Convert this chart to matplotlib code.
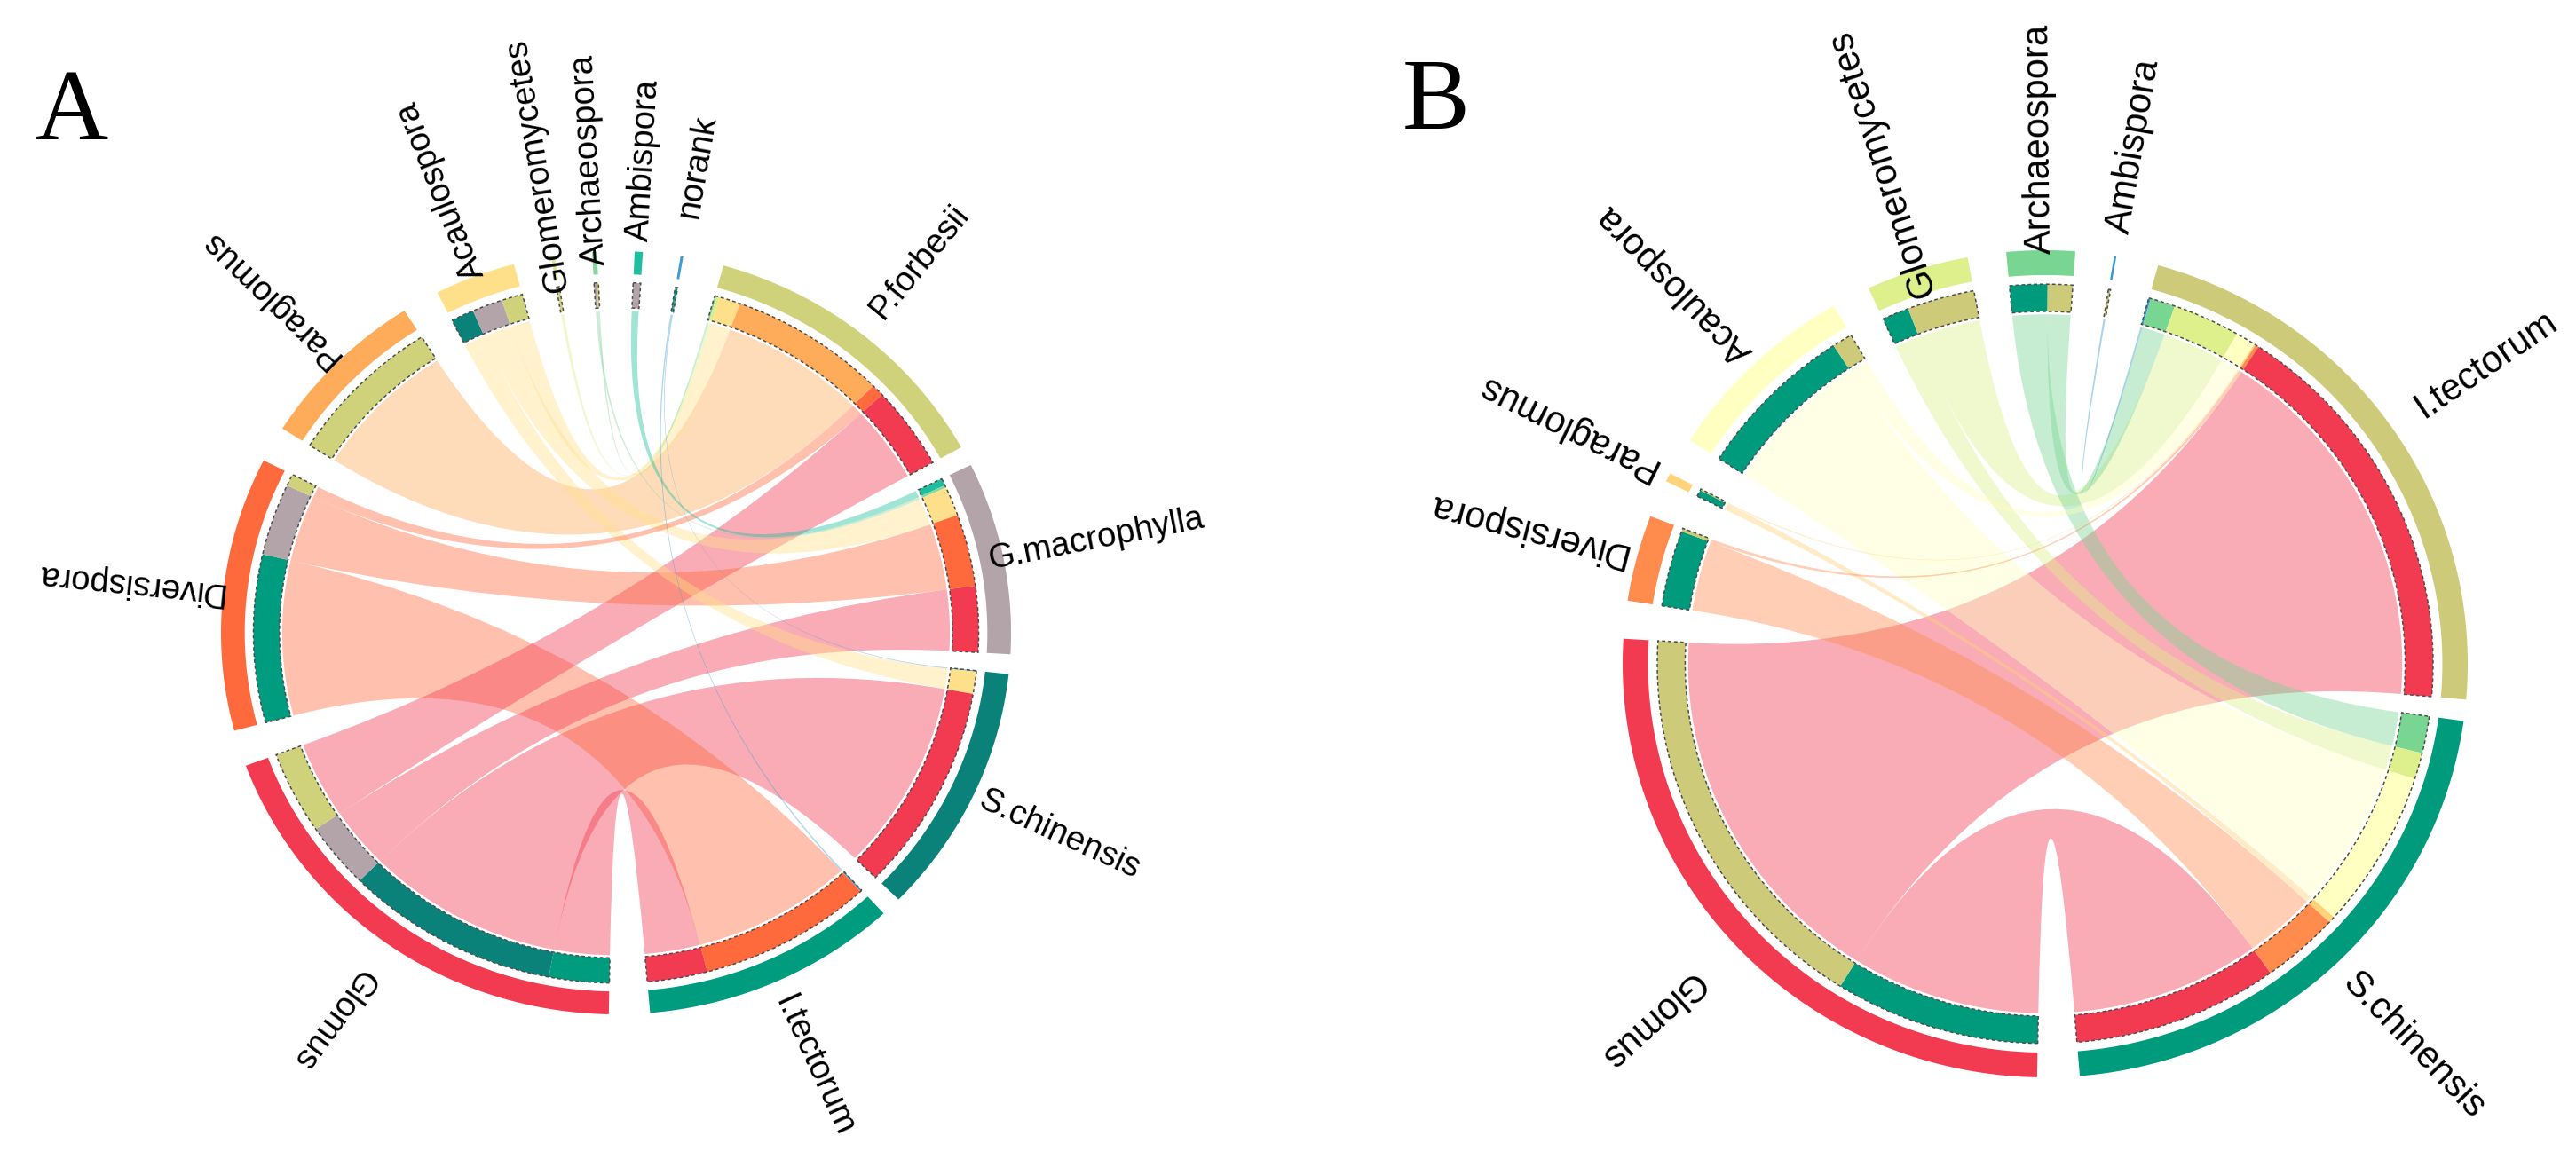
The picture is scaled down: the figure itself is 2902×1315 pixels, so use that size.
import numpy as np
import matplotlib
matplotlib.use("Agg")
import matplotlib.pyplot as plt
from matplotlib.path import Path
from matplotlib.patches import PathPatch, Polygon

# ---- panel A: hosts x AMF genera ----
a_hosts = ["P.forbesii", "G.macrophylla", "S.chinensis", "I.tectorum"]
a_genera = ["Glomus", "Diversispora", "Paraglomus", "Acaulospora",
            "Glomeromycetes", "Archaeospora", "Ambispora", "norank"]
a_pforbesii = [13.8, 2.0, 25.4, 3.4, 0.5, 0.3, 0.0, 0.0]
a_gmacrophylla = [11.0, 12.0, 0.0, 4.9, 0.0, 0.4, 1.2, 0.0]
a_schinensis = [34.5, 0.0, 0.0, 3.7, 0.0, 0.0, 0.0, 0.15]
a_itectorum = [9.7, 28.0, 0.0, 0.0, 0.0, 0.0, 0.0, 0.25]
a_host_colors = ["#CFD27B", "#B3A4AA", "#0B8279", "#009C7F"]
a_genus_colors = ["#F23B50", "#FF6A3D", "#FFAC5A", "#FFE08A",
                  "#D9EE8A", "#8AD6A0", "#1DBF9F", "#3D9BD6"]

# ---- panel B ----
b_hosts = ["I.tectorum", "S.chinensis"]
b_genera = ["Glomus", "Diversispora", "Paraglomus", "Acaulospora",
            "Glomeromycetes", "Archaeospora", "Ambispora"]
b_itectorum = [61.0, 0.5, 0.2, 3.0, 10.0, 3.7, 0.3]
b_schinensis = [30.5, 11.5, 1.0, 24.0, 4.0, 5.6, 0.0]
b_host_colors = ["#CDCB7A", "#009B7D"]
b_genus_colors = ["#F23B50", "#FF8B4D", "#FFD37A", "#FFFFC2",
                  "#DDF08C", "#78D692", "#3399CC"]

W, H = 2902, 1315
R_OUT = (0.94, 1.0)
R_IN = (0.852, 0.918)
R_CHORD = 0.845
CHORD_ALPHA = 0.42


def chord_diagram(ax, hosts, genera, matrix, host_colors, genus_colors,
                  cx, cy, rx, ry, start, gap_host, gap_group, gap_genus,
                  label_r, fontsize):
    m = np.array(matrix, dtype=float)
    nh, ng = m.shape
    tot = m.sum()

    def pt(r, ang):
        t = np.radians(ang)
        return cx + rx * r * np.cos(t), cy - ry * r * np.sin(t)

    def arc(a1, a2, r):
        n = max(2, int(abs(a1 - a2) * 3) + 2)
        th = np.linspace(a1, a2, n)
        x, y = pt(r, th)
        return list(zip(x, y))

    def band(a1, a2, r0, r1):
        return arc(a1, a2, r1) + arc(a2, a1, r0)

    # sector layout, clockwise
    names = hosts + genera
    totals = list(m.sum(1)) + list(m.sum(0))
    colors = host_colors + genus_colors
    gaps = [gap_host] * (nh - 1) + [gap_group] + [gap_genus] * (ng - 1) + [gap_group]
    scale = (360 - sum(gaps)) / (2 * tot)
    sec = []
    ang = start
    for t, g in zip(totals, gaps):
        sec.append((ang, ang - t * scale))
        ang = ang - t * scale - g

    host_end = {}
    for i in range(nh):
        pos = sec[i][0]
        for j in reversed(range(ng)):
            if m[i, j] > 0:
                host_end[i, j] = (pos, pos - m[i, j] * scale)
                pos -= m[i, j] * scale
    gen_end = {}
    for j in range(ng):
        pos = sec[nh + j][0]
        for i in reversed(range(nh)):
            if m[i, j] > 0:
                gen_end[i, j] = (pos, pos - m[i, j] * scale)
                pos -= m[i, j] * scale

    # chords
    for (i, j), (p1, p2) in sorted(host_end.items(), key=lambda kv: -m[kv[0]]):
        q1, q2 = gen_end[i, j]
        verts = arc(p1, p2, R_CHORD)
        codes = [Path.MOVETO] + [Path.LINETO] * (len(verts) - 1)
        verts += [(cx, cy), pt(R_CHORD, q1)]
        codes += [Path.CURVE3, Path.CURVE3]
        a2 = arc(q1, q2, R_CHORD)[1:]
        verts += a2
        codes += [Path.LINETO] * len(a2)
        verts += [(cx, cy), pt(R_CHORD, p1), pt(R_CHORD, p1)]
        codes += [Path.CURVE3, Path.CURVE3, Path.CLOSEPOLY]
        ax.add_patch(PathPatch(Path(verts, codes), facecolor=genus_colors[j],
                               alpha=CHORD_ALPHA, lw=0))

    # inner track: colour of the partner sector
    for (i, j), (a1, a2) in host_end.items():
        ax.add_patch(Polygon(band(a1, a2, *R_IN), closed=True,
                             facecolor=genus_colors[j], lw=0))
    for (i, j), (a1, a2) in gen_end.items():
        ax.add_patch(Polygon(band(a1, a2, *R_IN), closed=True,
                             facecolor=host_colors[i], lw=0))

    for k, (a1, a2) in enumerate(sec):
        ax.add_patch(Polygon(band(a1, a2, *R_IN), closed=True, fill=False,
                             edgecolor="#4d4d4d", lw=1.1, ls=(0, (2.5, 2))))
        ax.add_patch(Polygon(band(a1, a2, *R_OUT), closed=True,
                             facecolor=colors[k], lw=0))
        mid = (a1 + a2) / 2
        x, y = pt(label_r, mid)
        rot = np.degrees(np.arctan2(ry * np.sin(np.radians(mid)),
                                    rx * np.cos(np.radians(mid))))
        ax.text(x, y, names[k], rotation=rot, rotation_mode="anchor",
                ha="center", va="center", fontsize=fontsize,
                family=["Liberation Sans", "DejaVu Sans"])


fig = plt.figure(figsize=(W / 100, H / 100), dpi=100)
ax = fig.add_axes([0, 0, 1, 1])
ax.set_xlim(0, W)
ax.set_ylim(H, 0)
ax.axis("off")

chord_diagram(ax, a_hosts, a_genera,
              [a_pforbesii, a_gmacrophylla, a_schinensis, a_itectorum],
              a_host_colors, a_genus_colors,
              cx=694, cy=713, rx=445, ry=430, start=74.2,
              gap_host=3.0, gap_group=6.0, gap_genus=5.5,
              label_r=1.24, fontsize=27.5)

chord_diagram(ax, b_hosts, b_genera,
              [b_itectorum, b_schinensis],
              b_host_colors, b_genus_colors,
              cx=2304, cy=748, rx=476, ry=466, start=74.5,
              gap_host=3.0, gap_group=5.8, gap_genus=5.3,
              label_r=1.27, fontsize=30)

ax.text(40, 157, "A", fontsize=82, family=["Liberation Serif", "DejaVu Serif"],
        ha="left", va="baseline")
ax.text(1580, 145, "B", fontsize=82, family=["Liberation Serif", "DejaVu Serif"],
        ha="left", va="baseline")

fig.savefig("out.png", dpi=100, facecolor="white")
